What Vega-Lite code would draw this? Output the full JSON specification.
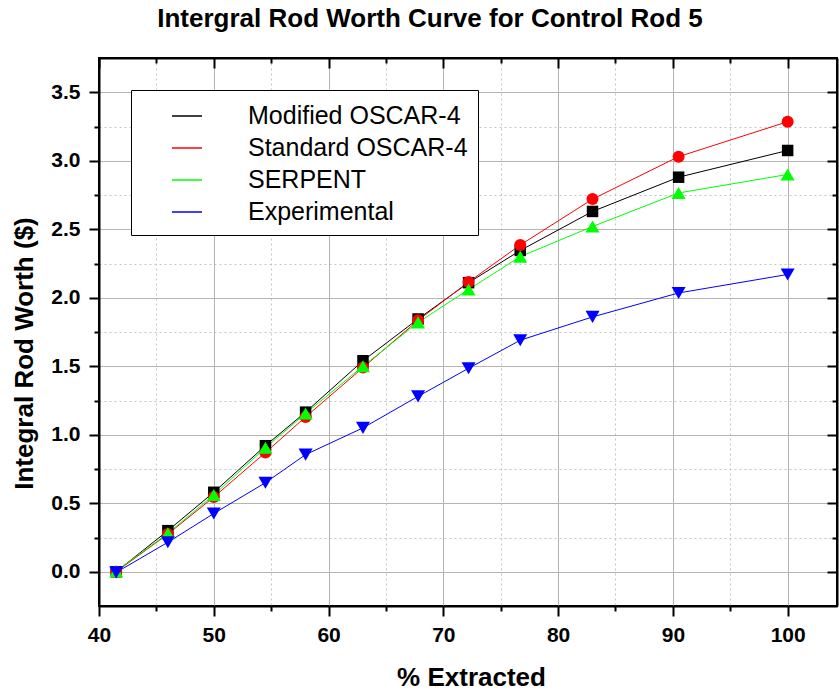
{
  "$schema": "https://vega.github.io/schema/vega-lite/v6.json",
  "width": 738,
  "height": 548,
  "autosize": {"type": "none"},
  "padding": {"left": 99, "top": 58, "right": 2, "bottom": 85},
  "background": "white",
  "title": {"text": "Intergral Rod Worth Curve for Control Rod 5", "font": "Liberation Sans", "fontSize": 26, "fontWeight": "bold", "color": "black", "anchor": "middle", "frame": "group", "dx": -38, "baseline": "alphabetic", "offset": 4},
  "config": {
    "font": "Liberation Sans",
    "view": {"stroke": "black", "strokeWidth": 2},
    "axis": {"tickColor": "black", "tickWidth": 2, "domainColor": "black", "domainWidth": 2, "labelFont": "Liberation Sans", "titleFont": "Liberation Sans", "labelColor": "black", "titleColor": "black"}
  },
  "data": {"values": [
    {"x": 41.5, "y": 0.0, "series": "Modified OSCAR-4"},
    {"x": 46, "y": 0.30, "series": "Modified OSCAR-4"},
    {"x": 50, "y": 0.58, "series": "Modified OSCAR-4"},
    {"x": 54.5, "y": 0.92, "series": "Modified OSCAR-4"},
    {"x": 58, "y": 1.165, "series": "Modified OSCAR-4"},
    {"x": 63, "y": 1.54, "series": "Modified OSCAR-4"},
    {"x": 67.8, "y": 1.845, "series": "Modified OSCAR-4"},
    {"x": 72.2, "y": 2.11, "series": "Modified OSCAR-4"},
    {"x": 76.7, "y": 2.345, "series": "Modified OSCAR-4"},
    {"x": 83, "y": 2.63, "series": "Modified OSCAR-4"},
    {"x": 90.5, "y": 2.88, "series": "Modified OSCAR-4"},
    {"x": 100, "y": 3.075, "series": "Modified OSCAR-4"},
    {"x": 41.5, "y": 0.0, "series": "Standard OSCAR-4"},
    {"x": 46, "y": 0.275, "series": "Standard OSCAR-4"},
    {"x": 50, "y": 0.545, "series": "Standard OSCAR-4"},
    {"x": 54.5, "y": 0.87, "series": "Standard OSCAR-4"},
    {"x": 58, "y": 1.13, "series": "Standard OSCAR-4"},
    {"x": 63, "y": 1.49, "series": "Standard OSCAR-4"},
    {"x": 67.8, "y": 1.835, "series": "Standard OSCAR-4"},
    {"x": 72.2, "y": 2.115, "series": "Standard OSCAR-4"},
    {"x": 76.7, "y": 2.385, "series": "Standard OSCAR-4"},
    {"x": 83, "y": 2.72, "series": "Standard OSCAR-4"},
    {"x": 90.5, "y": 3.03, "series": "Standard OSCAR-4"},
    {"x": 100, "y": 3.285, "series": "Standard OSCAR-4"},
    {"x": 41.5, "y": 0.005, "series": "SERPENT"},
    {"x": 46, "y": 0.28, "series": "SERPENT"},
    {"x": 50, "y": 0.56, "series": "SERPENT"},
    {"x": 54.5, "y": 0.905, "series": "SERPENT"},
    {"x": 58, "y": 1.155, "series": "SERPENT"},
    {"x": 63, "y": 1.50, "series": "SERPENT"},
    {"x": 67.8, "y": 1.82, "series": "SERPENT"},
    {"x": 72.2, "y": 2.06, "series": "SERPENT"},
    {"x": 76.7, "y": 2.30, "series": "SERPENT"},
    {"x": 83, "y": 2.52, "series": "SERPENT"},
    {"x": 90.5, "y": 2.765, "series": "SERPENT"},
    {"x": 100, "y": 2.90, "series": "SERPENT"},
    {"x": 41.5, "y": -0.005, "series": "Experimental"},
    {"x": 46, "y": 0.215, "series": "Experimental"},
    {"x": 50, "y": 0.425, "series": "Experimental"},
    {"x": 54.5, "y": 0.65, "series": "Experimental"},
    {"x": 58, "y": 0.855, "series": "Experimental"},
    {"x": 63, "y": 1.05, "series": "Experimental"},
    {"x": 67.8, "y": 1.28, "series": "Experimental"},
    {"x": 72.2, "y": 1.485, "series": "Experimental"},
    {"x": 76.7, "y": 1.69, "series": "Experimental"},
    {"x": 83, "y": 1.86, "series": "Experimental"},
    {"x": 90.5, "y": 2.035, "series": "Experimental"},
    {"x": 100, "y": 2.17, "series": "Experimental"}
  ]},
  "layer": [
    {
      "mark": {"type": "line", "strokeWidth": 1},
      "encoding": {
        "x": {"field": "x", "type": "quantitative", "scale": {"domain": [40, 104.3], "nice": false, "zero": false},
          "axis": {"orient": "bottom", "values": [40, 50, 60, 70, 80, 90, 100], "tickSize": 10, "labelFontSize": 21, "labelFontWeight": "bold", "labelPadding": 8, "labelFlush": false, "labelOverlap": false, "title": "% Extracted", "titleFontSize": 26, "titleFontWeight": "bold", "titleX": 372, "titleY": 79, "titleBaseline": "alphabetic", "titleAlign": "center", "grid": true, "gridColor": "#b4b4b4", "gridWidth": 1, "zindex": 0}},
        "y": {"field": "y", "type": "quantitative", "scale": {"domain": [-0.25, 3.75], "nice": false, "zero": false},
          "axis": {"orient": "left", "values": [0, 0.5, 1, 1.5, 2, 2.5, 3, 3.5], "format": ".1f", "tickSize": 10, "labelFontSize": 21, "labelFontWeight": "bold", "labelPadding": 9, "labelFlush": false, "labelOverlap": false, "title": "Integral Rod Worth ($)", "titleFontSize": 26, "titleFontWeight": "bold", "titleX": -67, "titleY": 295, "titleBaseline": "alphabetic", "titleAlign": "center", "titleAngle": -90, "grid": true, "gridColor": "#b4b4b4", "gridWidth": 1, "zindex": 0}},
        "color": {"field": "series", "type": "nominal", "scale": {"domain": ["Modified OSCAR-4", "Standard OSCAR-4", "SERPENT", "Experimental"], "range": ["#000000", "#ff0000", "#00ff00", "#0000ff"]},
          "legend": {"title": null, "orient": "top-left", "offset": 32, "direction": "vertical", "symbolType": "stroke", "symbolSize": 900, "symbolStrokeWidth": 1.5, "symbolOffset": 30, "labelOffset": 45, "labelFontSize": 25, "labelFont": "Liberation Sans", "labelColor": "black", "padding": 10, "strokeColor": "black", "fillColor": "white", "rowPadding": 3, "labelLimit": 400}}
      }
    },
    {
      "transform": [{"filter": "datum.series === 'Modified OSCAR-4'"}],
      "mark": {"type": "point", "shape": "square", "filled": true, "color": "#000000", "size": 132, "opacity": 1},
      "encoding": {
        "x": {"field": "x", "type": "quantitative", "scale": {"domain": [40, 104.3], "nice": false, "zero": false},
          "axis": {"orient": "bottom", "values": [45, 55, 65, 75, 85, 95], "tickSize": 5, "labels": false, "domain": false, "title": null, "grid": true, "gridColor": "#c4c4c4", "gridDash": [2, 3], "gridWidth": 1, "zindex": 0}},
        "y": {"field": "y", "type": "quantitative", "scale": {"domain": [-0.25, 3.75], "nice": false, "zero": false},
          "axis": {"orient": "left", "values": [0.25, 0.75, 1.25, 1.75, 2.25, 2.75, 3.25], "tickSize": 5, "labels": false, "domain": false, "title": null, "grid": true, "gridColor": "#c4c4c4", "gridDash": [2, 3], "gridWidth": 1, "zindex": 0}}
      }
    },
    {
      "transform": [{"filter": "datum.series === 'Standard OSCAR-4'"}],
      "mark": {"type": "point", "shape": "circle", "filled": true, "color": "#ff0000", "size": 144, "opacity": 1},
      "encoding": {
        "x": {"field": "x", "type": "quantitative", "scale": {"domain": [40, 104.3], "nice": false, "zero": false},
          "axis": {"orient": "top", "values": [40, 50, 60, 70, 80, 90, 100], "tickSize": -10, "labels": false, "domain": true, "title": null, "grid": false}},
        "y": {"field": "y", "type": "quantitative", "scale": {"domain": [-0.25, 3.75], "nice": false, "zero": false},
          "axis": {"orient": "right", "values": [0, 0.5, 1, 1.5, 2, 2.5, 3, 3.5], "tickSize": -10, "labels": false, "domain": true, "title": null, "grid": false}}
      }
    },
    {
      "transform": [{"filter": "datum.series === 'SERPENT'"}],
      "mark": {"type": "point", "shape": "triangle-up", "filled": true, "color": "#00ff00", "size": 196, "opacity": 1},
      "encoding": {
        "x": {"field": "x", "type": "quantitative", "scale": {"domain": [40, 104.3], "nice": false, "zero": false},
          "axis": {"orient": "top", "values": [45, 55, 65, 75, 85, 95], "tickSize": -5, "labels": false, "domain": false, "title": null, "grid": false}},
        "y": {"field": "y", "type": "quantitative", "scale": {"domain": [-0.25, 3.75], "nice": false, "zero": false},
          "axis": {"orient": "right", "values": [0.25, 0.75, 1.25, 1.75, 2.25, 2.75, 3.25], "tickSize": -5, "labels": false, "domain": false, "title": null, "grid": false}}
      }
    },
    {
      "transform": [{"filter": "datum.series === 'Experimental'"}],
      "mark": {"type": "point", "shape": "triangle-down", "filled": true, "color": "#0000ff", "size": 196, "opacity": 1},
      "encoding": {
        "x": {"field": "x", "type": "quantitative", "scale": {"domain": [40, 104.3], "nice": false, "zero": false}, "axis": null},
        "y": {"field": "y", "type": "quantitative", "scale": {"domain": [-0.25, 3.75], "nice": false, "zero": false}, "axis": null}
      }
    }
  ]
}
